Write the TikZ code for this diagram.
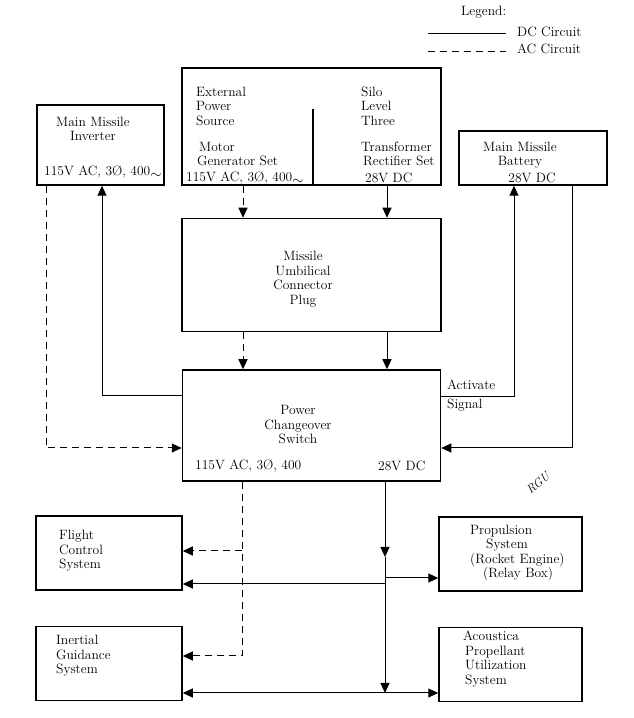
\documentclass[tikz,border=0pt]{standalone}
\usepackage{tikz}
\usetikzlibrary{arrows.meta, positioning}

\newcommand{\acwave}{\raisebox{-2.5pt}{$\sim$}}

\begin{document}
\begin{tikzpicture}[
  x=1pt, y=1pt,
  box/.style = {rectangle, draw, line width=1.5pt, inner sep=0pt},
  txt/.style = {align=left, inner sep=0pt, font=\fontsize{13.5}{14.5}\selectfont},
  dc/.style = {line width=1pt},
  ac/.style = {line width=1pt, dash pattern=on 7pt off 5pt},
  >={Triangle[length=10pt, width=9pt]},
  node distance=32pt and 32pt
  ]
  \useasboundingbox (0,0) rectangle (633,718);

  % Legende
  \node[txt, anchor=base west] (Legend) at (461,702) {Legend:};
  \node[txt, anchor=west] (DC legend) at (517,686) {DC Circuit};
  \node[txt, anchor=west] (AC legend) at (517,669) {AC Circuit};
  \coordinate (dc sample) at (428,684);
  \coordinate (ac sample) at (428,666);
  \draw[dc] (dc sample) -- ++(78,0);
  \draw[ac] (ac sample) -- ++(78,0);

  % Boites
  \node[box, minimum width=259pt, minimum height=117pt] (Source) at (311.5,591.5) {};
  \node[box, minimum width=259pt, minimum height=113pt, below=32pt of Source] (Umbilical) {};
  \node[box, minimum width=258pt, minimum height=111pt, below=37pt of Umbilical] (Switch) {};
  \node[box, minimum width=127pt, minimum height=80pt] (Inverter) at (100.5,573) {};
  \node[box, minimum width=148pt, minimum height=54pt] (Battery) at (533,560) {};
  \node[box, minimum width=146pt, minimum height=74pt] (Flight) at (109,165) {};
  \node[box, minimum width=146pt, minimum height=74pt, below=35pt of Flight] (Inertial) {};
  \node[box, minimum width=143pt, minimum height=74pt] (Propulsion) at (510.5,164) {};
  \node[box, minimum width=143pt, minimum height=74pt, below=35pt of Propulsion] (Acoustica) {};

  % Textes
  \node[txt, anchor=west] (External) at (196,612) {External\\Power\\Source};
  \node[txt, anchor=west] (Motor) at (197,564) {\hspace*{2pt}Motor\\Generator Set};
  \node[txt, anchor=west] (Motor output) at (186,540) {115V AC, 3\O, 400\acwave};
  \node[txt, anchor=west] (Silo) at (361,612) {Silo\\Level\\Three};
  \node[txt, anchor=west] (Transformer) at (361,564) {Transformer\\\hspace*{2pt}Rectifier Set};
  \node[txt, anchor=west] (Transformer output) at (365,540) {28V DC};
  \coordinate (divider) at (313,609);
  \draw[line width=1.3pt] (divider) -- (Source.south -| divider);

  \node[txt, align=center] (Inverter title) at (93,589) {Main Missile\\Inverter};
  \node[txt, anchor=west] (Inverter output) at (44,546) {115V AC, 3\O, 400\acwave};
  \node[txt, align=center] (Battery title) at (520,563) {Main Missile\\Battery};
  \node[txt] (Battery output) at (532,540) {28V DC};
  \node[txt, align=center] (Umbilical title) at (303,439) {Missile\\Umbilical\\Connector\\Plug};
  \node[txt, align=center] (Switch title) at (298,293) {Power\\Changeover\\Switch};
  \node[txt, anchor=west] (Switch ac) at (195,252) {115V AC, 3\O, 400};
  \node[txt, anchor=west] (Switch dc) at (378,252) {28V DC};
  \node[txt, anchor=west] (Activate) at (447,333) {Activate};
  \node[txt, anchor=west] (Signal) at (447,313) {Signal};
  \node[txt, anchor=west] (Flight title) at (59,167) {Flight\\Control\\System};
  \node[txt, anchor=west] (Inertial title) at (56,62) {Inertial\\Guidance\\System};
  \node[txt, anchor=west] (Propulsion title) at (470,165) {Propulsion\\\hspace*{16pt}System\\(Rocket Engine)\\\hspace*{13pt}(Relay Box)};
  \node[txt, anchor=west] (Acoustica title) at (463,59) {Acoustica\\\hspace*{2pt}Propellant\\\hspace*{2pt}Utilization\\\hspace*{2pt}System};
  \node[rotate=40, font=\itshape\fontsize{12}{12}\selectfont] (initials) at (538,235) {RGU};

  % Fleches
  \coordinate (ac col) at (243,0);
  \coordinate (dc col) at (387,0);
  \draw[ac,->] (Source.south -| ac col) -- (Umbilical.north -| ac col);
  \draw[dc,->] (Source.south -| dc col) -- (Umbilical.north -| dc col);
  \draw[ac,->] (Umbilical.south -| ac col) -- (Switch.north -| ac col);
  \draw[dc,->] (Umbilical.south -| dc col) -- (Switch.north -| dc col);

  \coordinate (inv ac) at (46,270);
  \coordinate (inv dc) at (102,322);
  \draw[ac,->] (Inverter.south -| inv ac) |- (Switch.west |- inv ac);
  \draw[dc,->] (Switch.west |- inv dc) -| (Inverter.south -| inv dc);

  \coordinate (act) at (514,321);
  \coordinate (bat ret) at (572,270);
  \draw[dc,->] (Switch.east |- act) -| (Battery.south -| act);
  \draw[dc,->] (Battery.south -| bat ret) |- (Switch.east |- bat ret);

  \coordinate (fc ac) at (242,167);
  \coordinate (ig ac) at (242,62);
  \draw[ac,->] (Switch.south -| ig ac) |- (Inertial.east |- ig ac);
  \draw[ac,->] (fc ac) -- (Flight.east |- fc ac);

  \coordinate (dc mid) at (385,161);
  \coordinate (dc bot) at (385,25);
  \coordinate (pr dc) at (385,140);
  \coordinate (fc dc) at (385,134);
  \draw[dc,->] (Switch.south -| dc mid) -- (dc mid);
  \draw[dc,->] (dc mid) -- (dc bot);
  \draw[dc,->] (pr dc) -- (Propulsion.west |- pr dc);
  \draw[dc,->] (fc dc) -- (Flight.east |- fc dc);
  \draw[dc,->] (dc bot) -- (Inertial.east |- dc bot);
  \draw[dc,->] (dc bot) -- (Acoustica.west |- dc bot);

\end{tikzpicture}
\end{document}
